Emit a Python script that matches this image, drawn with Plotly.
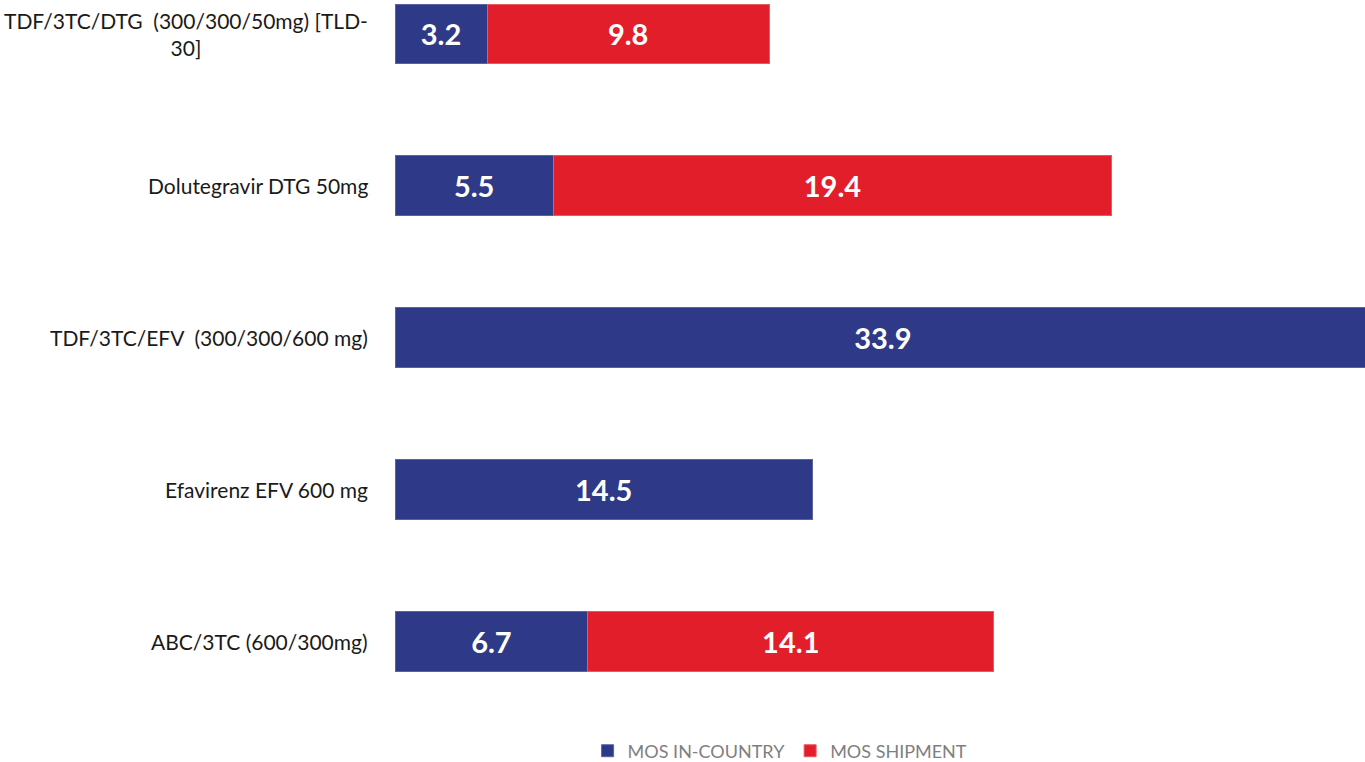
import plotly.graph_objects as go

categories = [
    "TDF/3TC/DTG  (300/300/50mg) [TLD-<br>30]",
    "Dolutegravir DTG 50mg",
    "TDF/3TC/EFV  (300/300/600 mg)",
    "Efavirenz EFV 600 mg",
    "ABC/3TC (600/300mg)",
]
mos_in_country = [3.2, 5.5, 33.9, 14.5, 6.7]
mos_shipment = [9.8, 19.4, None, None, 14.1]

BLUE = "#2E3987"
RED = "#E31E2B"
FONT = "Lato"

ids = list(range(len(categories)))

fig = go.Figure()
fig.add_trace(go.Bar(
    y=ids, x=mos_in_country, orientation="h", name="MOS IN-COUNTRY",
    marker=dict(color=BLUE, line=dict(color="#5A63A0", width=1)),
    text=[f"{v:.1f}" for v in mos_in_country], textposition="inside",
    insidetextanchor="middle",
    textfont=dict(family=FONT, size=29, color="white", weight="bold"),
))
fig.add_trace(go.Bar(
    y=ids, x=mos_shipment, orientation="h", name="MOS SHIPMENT",
    marker=dict(color=RED, line=dict(color="#E85A63", width=1)),
    text=[f"{v:.1f}" if v is not None else "" for v in mos_shipment],
    textposition="inside", insidetextanchor="middle",
    textfont=dict(family=FONT, size=29, color="white", weight="bold"),
))

for i, c in zip(ids, categories):
    fig.add_annotation(
        x=0, xref="paper", y=i, yref="y", text=c, showarrow=False,
        xanchor="right", yanchor="middle", xshift=-25, align="center",
        font=dict(family=FONT, size=21, color="#1a1a1a"),
    )

fig.update_layout(
    width=1365, height=762,
    barmode="stack", bargap=0.605,
    plot_bgcolor="white", paper_bgcolor="white",
    margin=dict(l=395, r=0, t=0, b=44, autoexpand=False),
    showlegend=True,
    legend=dict(orientation="h", x=0.397, xanchor="center",
                yref="container", y=0.0144, yanchor="middle",
                font=dict(family=FONT, size=18, color="#7F7F7F"),
                traceorder="normal"),
    xaxis=dict(range=[0, 33.7], visible=False),
    yaxis=dict(range=[4.507, -0.224], showticklabels=False, showgrid=False,
               zeroline=False, showline=False),
    uniformtext=dict(mode=False),
)

fig.write_html("out.html", config={"displayModeBar": False},
               post_script="document.body.style.margin='0';document.body.style.overflow='hidden';")
